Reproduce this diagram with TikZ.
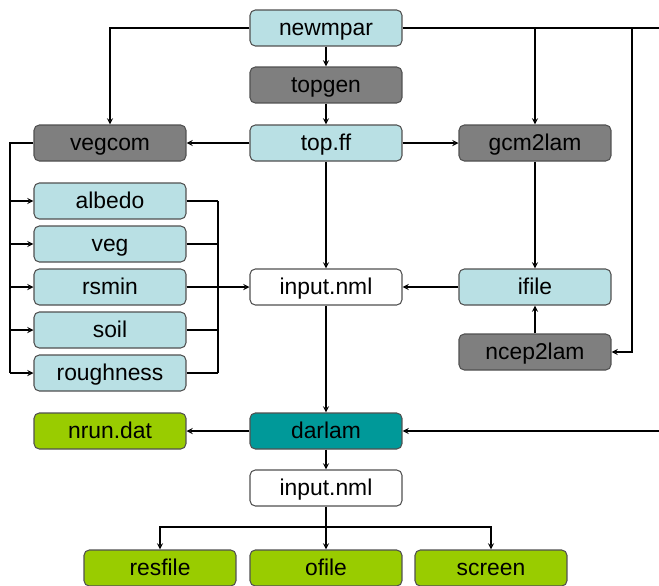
\documentclass[tikz,border=0pt]{standalone}
\usepackage{fontspec}
\setmainfont{Liberation Sans}
\usetikzlibrary{positioning}
\definecolor{paleblue}{HTML}{B9E0E4}
\definecolor{darkbox}{HTML}{7F7F7F}
\definecolor{tealbox}{HTML}{009999}
\definecolor{greenbox}{HTML}{99CC00}
\definecolor{boxline}{HTML}{505050}

\begin{document}
\begin{tikzpicture}[x=0.02cm, y=-0.02cm, >=stealth,
    box/.style={draw=boxline, line width=0.6pt, rounded corners=3pt,
        minimum width=3.04cm, minimum height=0.72cm, inner sep=0pt,
        text height=9.5pt, text depth=1.5pt,
        font=\fontsize{13}{15}\selectfont},
    infile/.style={box, fill=paleblue},
    tool/.style={box, fill=darkbox},
    namelist/.style={box, fill=white},
    model/.style={box, fill=tealbox},
    outfile/.style={box, fill=greenbox},
    link/.style={line width=0.6pt}]
    \useasboundingbox (0,0) rectangle (659,585);

    % Preprocessing chain
    \node[infile] (newmpar) at (326,28) {newmpar};
    \node[tool] (topgen) at (326,85) {topgen};
    \node[infile] (topff) at (326,143) {top.ff};
    \node[tool] (vegcom) at (110,143) {vegcom};
    \node[tool] (gcm2lam) at (535,143) {gcm2lam};

    % Surface fields
    \node[infile] (albedo) at (110,201) {albedo};
    \node[infile] (veg) at (110,244) {veg};
    \node[infile] (rsmin) at (110,287) {rsmin};
    \node[infile] (soil) at (110,330) {soil};
    \node[infile] (roughness) at (110,373) {roughness};

    \node[namelist] (input) at (326,287) {input.nml};
    \node[infile] (ifile) at (535,287) {ifile};
    \node[tool] (ncep2lam) at (535,352) {ncep2lam};

    % Model run
    \node[model] (darlam) at (326,431) {darlam};
    \node[outfile] (nrun) at (110,431) {nrun.dat};
    \node[namelist] (input2) at (326,488) {input.nml};
    \node[outfile] (resfile) at (160,568) {resfile};
    \node[outfile] (ofile) at (326,568) {ofile};
    \node[outfile] (screen) at (491,568) {screen};

    \coordinate (edgeTop) at (659,28);
    \coordinate (drop) at (632,28);
    \coordinate (edgeMid) at (659,431);
    \coordinate (vleft) at (10,143);
    \coordinate (vright) at (218,201);
    \coordinate (split) at (326,527);

    % Connectors
    \draw[link,->] (newmpar.west) -| (vegcom.north);
    \draw[link] (newmpar.east) -- (edgeTop);
    \draw[link,->] (gcm2lam.north |- newmpar.east) -- (gcm2lam.north);
    \draw[link,->] (drop) |- (ncep2lam.east);
    \draw[link,->] (newmpar) -- (topgen);
    \draw[link,->] (topgen) -- (topff);
    \draw[link,->] (topff) -- (vegcom);
    \draw[link,->] (topff) -- (gcm2lam);
    \draw[link,->] (topff) -- (input);

    \draw[link] (vegcom.west) -- (vleft) -- (vleft |- roughness.west);
    \foreach \f in {albedo,veg,rsmin,soil,roughness}{
        \draw[link,->] (vleft |- \f.west) -- (\f.west);
        \draw[link] (\f.east) -- (vright |- \f.east);
    }
    \draw[link] (vright) -- (vright |- roughness.east);
    \draw[link,->] (rsmin.east) -- (input.west);

    \draw[link,->] (gcm2lam) -- (ifile);
    \draw[link,->] (ncep2lam) -- (ifile);
    \draw[link,->] (ifile) -- (input);
    \draw[link,->] (input) -- (darlam);
    \draw[link,->] (darlam) -- (nrun);
    \draw[link,->] (edgeMid) -- (darlam.east);
    \draw[link,->] (darlam) -- (input2);

    \draw[link] (input2.south) -- (split);
    \draw[link,->] (split) -| (resfile.north);
    \draw[link,->] (split) -- (ofile.north);
    \draw[link,->] (split) -| (screen.north);
\end{tikzpicture}
\end{document}
